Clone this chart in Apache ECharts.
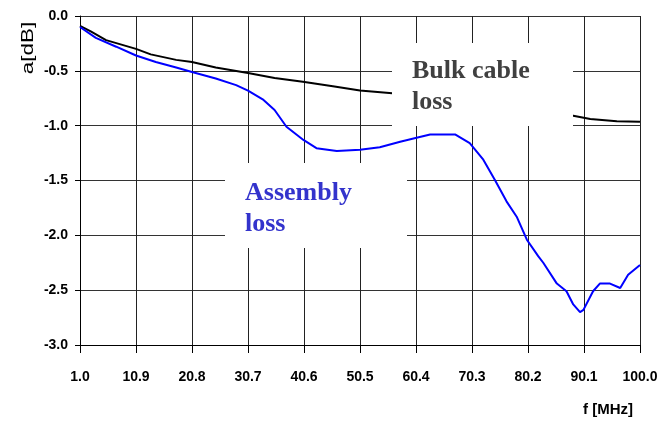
<!DOCTYPE html>
<html>
<head>
<meta charset="utf-8">
<script src="https://cdn.jsdelivr.net/npm/echarts@6/dist/echarts.min.js"></script>
<style>
  html, body { margin: 0; padding: 0; background: #fff; }
  #chart { width: 666px; height: 421px; }
</style>
</head>
<body>
<div id="chart"></div>
<script>
// ---- data ----
const FREQ_MIN = 1.0;     // MHz, first tick
const FREQ_MAX = 100.0;   // MHz, last tick
const FREQ_STEP = 9.9;    // MHz between ticks
const LOSS_MIN = -3.0;
const LOSS_MAX = 0.0;
const LOSS_STEP = 0.5;

// Bulk cable loss (black). The part behind the label box is not visible.
const bulkFreq = [1.0, 2.9, 5.6, 10.9, 13.5, 18.0, 20.8, 25.0, 30.7, 35.4, 40.4, 45.7, 50.5, 56.2, 88.2, 91.2, 95.9, 100.0];
const bulkLoss = [-0.09, -0.14, -0.22, -0.30, -0.35, -0.40, -0.42, -0.47, -0.52, -0.565, -0.60, -0.64, -0.68, -0.705, -0.91, -0.94, -0.96, -0.965];

// Assembly loss (blue)
const asmFreq = [1.0, 3.8, 7.4, 10.9, 14.4, 18.0, 20.8, 25.0, 28.6, 30.7, 33.3, 35.4, 37.5, 40.5, 42.8, 46.4, 50.5, 54.0, 57.6, 60.5, 62.9, 67.3, 69.9, 72.3, 74.4, 76.4, 78.2, 80.0, 82.0, 82.9, 85.3, 87.0, 88.2, 89.4, 90.0, 91.7, 92.9, 94.7, 96.5, 97.9, 100.0];
const asmLoss = [-0.10, -0.20, -0.28, -0.36, -0.42, -0.47, -0.51, -0.57, -0.63, -0.68, -0.76, -0.857, -1.01, -1.13, -1.205, -1.23, -1.22, -1.197, -1.146, -1.11, -1.08, -1.08, -1.16, -1.31, -1.50, -1.69, -1.83, -2.04, -2.19, -2.25, -2.44, -2.51, -2.63, -2.70, -2.68, -2.51, -2.44, -2.44, -2.48, -2.36, -2.27];

const yAxisTitle = 'a[dB]';
const xAxisTitle = 'f [MHz]';
const bulkLabel = ['Bulk cable', 'loss'];
const asmLabel = ['Assembly', 'loss'];

// ---- chart ----
const toPoints = (fs, ls) => fs.map((f, i) => [f - FREQ_MIN, ls[i]]);

const chart = echarts.init(document.getElementById('chart'), null, { renderer: 'canvas' });

const serifBold = 'bold 26px "Liberation Serif", "Times New Roman", serif';

chart.setOption({
  animation: false,
  backgroundColor: '#ffffff',
  grid: { left: 80, right: 26, top: 16, bottom: 76, containLabel: false },
  xAxis: {
    type: 'value',
    min: 0,
    max: FREQ_MAX - FREQ_MIN,
    interval: FREQ_STEP,
    axisLine: { show: true, onZero: false, lineStyle: { color: '#000', width: 1 } },
    axisTick: { show: true, inside: false, length: 8, lineStyle: { color: '#000', width: 1 } },
    axisLabel: {
      margin: 25,
      color: '#000',
      fontFamily: '"Liberation Sans", Arial, sans-serif',
      fontWeight: 'bold',
      fontSize: 14,
      formatter: v => (v + FREQ_MIN).toFixed(1),
      showMinLabel: true,
      showMaxLabel: true
    },
    splitLine: { show: true, lineStyle: { color: '#222', width: 1 } }
  },
  yAxis: {
    type: 'value',
    min: LOSS_MIN,
    max: LOSS_MAX,
    interval: LOSS_STEP,
    axisLine: { show: true, onZero: false, lineStyle: { color: '#000', width: 1 } },
    axisTick: { show: true, inside: false, length: 5, lineStyle: { color: '#000', width: 1 } },
    axisLabel: {
      margin: 12,
      color: '#000',
      fontFamily: '"Liberation Sans", Arial, sans-serif',
      fontWeight: 'bold',
      fontSize: 14,
      formatter: v => v.toFixed(1)
    },
    splitLine: { show: true, lineStyle: { color: '#333', width: 1 } }
  },
  series: [
    {
      name: 'Bulk cable loss',
      type: 'line',
      data: toPoints(bulkFreq, bulkLoss),
      showSymbol: false,
      symbol: 'none',
      lineStyle: { color: '#000000', width: 2 },
      z: 3
    },
    {
      name: 'Assembly loss',
      type: 'line',
      data: toPoints(asmFreq, asmLoss),
      showSymbol: false,
      symbol: 'none',
      lineStyle: { color: '#0000ff', width: 2 },
      z: 4
    }
  ],
  graphic: [
    { type: 'rect', z: 100, shape: { x: 392, y: 43, width: 181, height: 83 }, style: { fill: '#ffffff' } },
    { type: 'rect', z: 100, shape: { x: 225, y: 163, width: 182, height: 85 }, style: { fill: '#ffffff' } },
    { type: 'text', z: 101, x: 412, y: 71, style: { text: bulkLabel[0], font: serifBold, fill: '#404040', textAlign: 'left', textVerticalAlign: 'middle' } },
    { type: 'text', z: 101, x: 412, y: 102, style: { text: bulkLabel[1], font: serifBold, fill: '#404040', textAlign: 'left', textVerticalAlign: 'middle' } },
    { type: 'text', z: 101, x: 245, y: 193, style: { text: asmLabel[0], font: serifBold, fill: '#3333cc', textAlign: 'left', textVerticalAlign: 'middle' } },
    { type: 'text', z: 101, x: 245, y: 224, style: { text: asmLabel[1], font: serifBold, fill: '#3333cc', textAlign: 'left', textVerticalAlign: 'middle' } },
    { type: 'text', z: 101, x: 29, y: 48, rotation: Math.PI / 2, scaleX: 1.4, style: { text: yAxisTitle, font: 'normal 16px "Liberation Sans", Arial, sans-serif', fill: '#000', textAlign: 'center', textVerticalAlign: 'middle' } },
    { type: 'text', z: 101, x: 608, y: 410, style: { text: xAxisTitle, font: 'bold 15px "Liberation Sans", Arial, sans-serif', fill: '#000', textAlign: 'center', textVerticalAlign: 'middle' } }
  ]
});
</script>
</body>
</html>
